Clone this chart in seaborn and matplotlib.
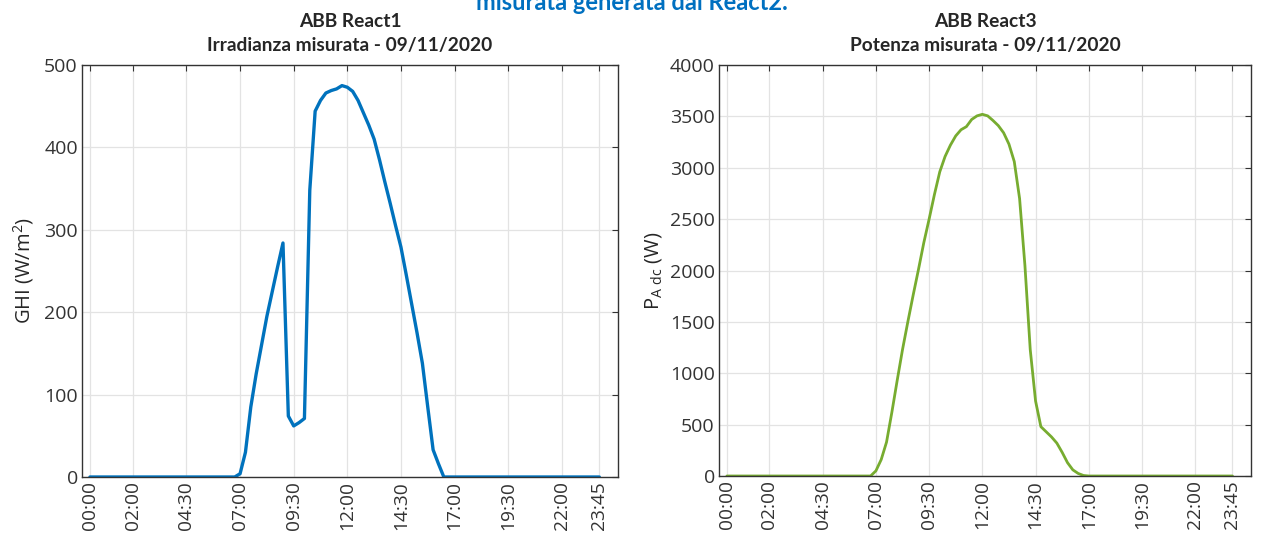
import numpy as np
import pandas as pd
import matplotlib
matplotlib.use("Agg")
import matplotlib.pyplot as plt
import seaborn as sns

# =========================
# DATA (hours of day)
# =========================
ghi_ore = [0.0, 6.75, 7.0, 7.25, 7.5, 7.75, 8.0, 8.25, 8.5, 8.75, 9.0, 9.25, 9.5,
           9.75, 10.0, 10.25, 10.5, 10.75, 11.0, 11.25, 11.5, 11.75, 12.0, 12.25,
           12.5, 12.75, 13.0, 13.25, 13.5, 13.75, 14.0, 14.25, 14.5, 14.75, 15.0,
           15.25, 15.5, 15.75, 16.0, 16.25, 16.5, 23.75]
ghi_val = [0, 0, 4, 30, 85, 125, 160, 195, 225, 255, 284, 74, 62,
           66, 71, 348, 444, 457, 466, 469, 471, 475, 473, 468,
           457, 442, 427, 410, 385, 358, 332, 305, 279, 245, 210,
           175, 138, 85, 33, 16, 0, 0]

pot_ore = [0.0, 6.75, 7.0, 7.25, 7.5, 7.75, 8.0, 8.25, 8.5, 8.75, 9.0, 9.25, 9.5,
           9.75, 10.0, 10.25, 10.5, 10.75, 11.0, 11.25, 11.5, 11.75, 12.0, 12.25,
           12.5, 12.75, 13.0, 13.25, 13.5, 13.75, 14.0, 14.25, 14.5, 14.75, 15.0,
           15.25, 15.5, 15.75, 16.0, 16.25, 16.5, 16.75, 17.0, 23.75]
pot_val = [0, 0, 50, 160, 330, 620, 930, 1230, 1500, 1760, 2010, 2270, 2500,
           2740, 2960, 3110, 3220, 3310, 3370, 3400, 3470, 3505, 3520, 3505,
           3460, 3410, 3340, 3230, 3060, 2700, 2050, 1230, 730, 480, 430,
           380, 320, 230, 130, 60, 25, 5, 0, 0]

tick_ore = [0, 2, 4.5, 7, 9.5, 12, 14.5, 17, 19.5, 22, 23.75]
tick_lab = ['00:00', '02:00', '04:30', '07:00', '09:30', '12:00', '14:30',
            '17:00', '19:30', '22:00', '23:45']

df_ghi = pd.DataFrame({'ora': ghi_ore, 'GHI': ghi_val})
df_pot = pd.DataFrame({'ora': pot_ore, 'P': pot_val})

# =========================
# STILE
# =========================
sns.set_style("white")
plt.rcParams['font.family'] = ['Open Sans', 'DejaVu Sans']
plt.rcParams['mathtext.default'] = 'regular'
plt.rcParams['axes.edgecolor'] = '#333333'
plt.rcParams['xtick.color'] = '#333333'
plt.rcParams['ytick.color'] = '#333333'

fig = plt.figure(figsize=(12.64, 5.36), dpi=100)
W, H = 1264, 536
ax1 = fig.add_axes([82 / W, (H - 477) / H, (618 - 82) / W, (477 - 65) / H])
ax2 = fig.add_axes([719 / W, (H - 476) / H, (1251 - 719) / W, (476 - 65) / H])

sns.lineplot(data=df_ghi, x='ora', y='GHI', ax=ax1, color='#0072BD', linewidth=2.4)
sns.lineplot(data=df_pot, x='ora', y='P', ax=ax2, color='#77AC30', linewidth=2.0)

titoli = ["ABB React1\nIrradianza misurata - 09/11/2020",
          "ABB React3\nPotenza misurata - 09/11/2020"]

for ax, tit in zip([ax1, ax2], titoli):
    ax.set_xlim(-0.37, 24.62)
    ax.set_xticks(tick_ore)
    ax.set_xticklabels(tick_lab, rotation=90, fontsize=13.8)
    ax.tick_params(axis='y', labelsize=14)
    ax.tick_params(direction='in', top=True, right=True, length=4, width=0.8, pad=3)
    ax.grid(True, color='#e3e3e3', linewidth=0.9)
    ax.set_axisbelow(True)
    for s in ax.spines.values():
        s.set_linewidth(1.0)
    ax.set_xlabel('')
    ax.set_title(tit, fontsize=13.8, fontweight='bold', family=['Lato', 'DejaVu Sans'],
                 linespacing=1.5, pad=10)

ax1.set_ylim(0, 500)
ax1.set_yticks([0, 100, 200, 300, 400, 500])
ax1.set_ylabel('GHI (W/m$^2$)', fontsize=14.5, labelpad=6)

ax2.set_ylim(0, 4000)
ax2.set_yticks(range(0, 4001, 500))
ax2.set_ylabel('P$_{A\\ dc}$ (W)', fontsize=14.5, labelpad=4)

# testo del documento tagliato in alto
fig.text(0.5, 1 - 10 / H, 'misurata generata dal React2.', ha='center', va='baseline',
         fontsize=17, fontweight='bold', color='#0070C0', family=['Lato', 'DejaVu Sans'])

fig.savefig('out.png', dpi=100)
